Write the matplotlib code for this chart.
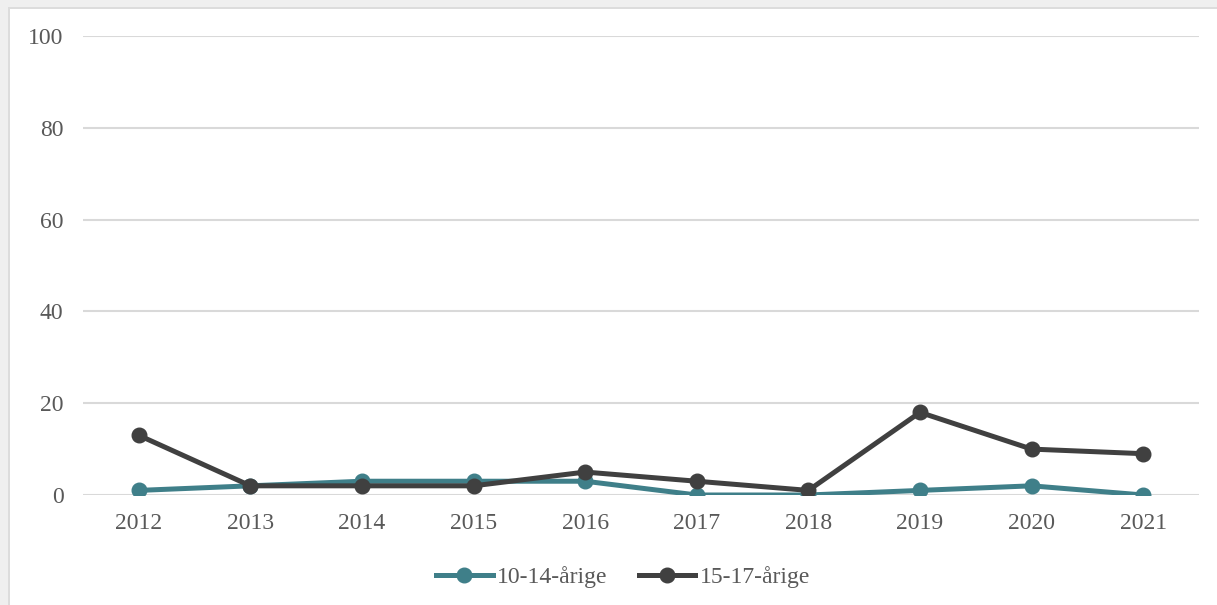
import matplotlib.pyplot as plt
from matplotlib.patches import Rectangle

years = ["2012", "2013", "2014", "2015", "2016", "2017", "2018", "2019", "2020", "2021"]
age_10_14 = [1, 2, 3, 3, 3, 0, 0, 1, 2, 0]
age_15_17 = [13, 2, 2, 2, 5, 3, 1, 18, 10, 9]
yticks = [0, 20, 40, 60, 80, 100]

plt.rcParams['font.family'] = ['Liberation Serif', 'DejaVu Serif']

fig = plt.figure(figsize=(12.17, 6.05), dpi=100)

# grey frame round the chart area (top and left)
fig.patches.append(Rectangle((0, 1 - 7 / 605), 1, 7 / 605, transform=fig.transFigure,
                             facecolor='#efefef', edgecolor='none', zorder=0))
fig.patches.append(Rectangle((0, 0), 8 / 1217, 1, transform=fig.transFigure,
                             facecolor='#efefef', edgecolor='none', zorder=0))
fig.patches.append(Rectangle((8 / 1217, 0), 2 / 1217, 1 - 7 / 605, transform=fig.transFigure,
                             facecolor='#dcdcdc', edgecolor='none', zorder=0))
fig.patches.append(Rectangle((8 / 1217, 1 - 9 / 605), 1, 2 / 605, transform=fig.transFigure,
                             facecolor='#dcdcdc', edgecolor='none', zorder=0))

ax = fig.add_axes([83 / 1217, 1 - 495 / 605, (1199 - 83) / 1217, (495 - 36) / 605])
x = range(len(years))

ax.plot(x, age_10_14, color='#3f7f89', lw=3.6, marker='o', ms=10.5, label='10-14-årige', zorder=3)
ax.plot(x, age_15_17, color='#404040', lw=3.6, marker='o', ms=10.5, label='15-17-årige', zorder=4)

ax.set_xlim(-0.5, len(years) - 0.5)
ax.set_ylim(0, 100)
ax.set_yticks(yticks)
ax.set_xticks(list(x))
ax.set_xticklabels(years)
ax.grid(axis='y', color='#d9d9d9', lw=1.5)
ax.set_axisbelow(True)
for s in ax.spines.values():
    s.set_visible(False)
ax.tick_params(length=0, labelsize=17, colors='#595959')
ax.tick_params(axis='x', pad=13)
ax.tick_params(axis='y', pad=14)

leg = ax.legend(loc='center', bbox_to_anchor=(0.484, -0.1795), ncol=2, frameon=False,
                fontsize=17, handlelength=2.4, columnspacing=1.3, handletextpad=0.2)
for t in leg.get_texts():
    t.set_color('#595959')

fig.savefig('out.png', dpi=100)
